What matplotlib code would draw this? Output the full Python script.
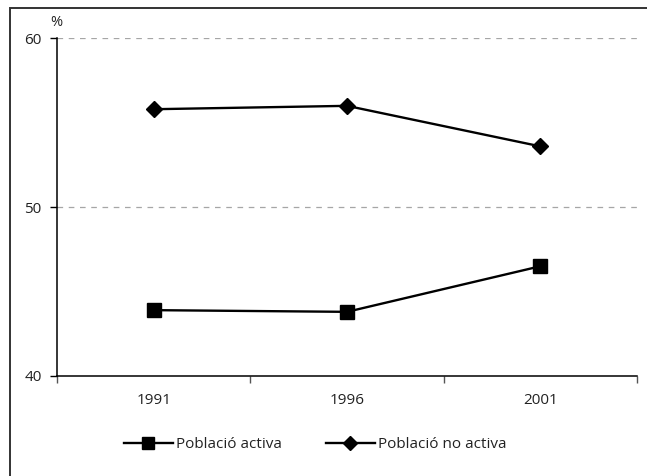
import matplotlib
matplotlib.use("Agg")
import matplotlib.pyplot as plt
from matplotlib.patches import Rectangle
import numpy as np

years = ["1991", "1996", "2001"]
activa = [43.9, 43.8, 46.5]
no_activa = [55.8, 56.0, 53.6]
yticks = [40, 50, 60]
series_labels = ["Població activa", "Població no activa"]

plt.rcParams['font.family'] = ['Open Sans', 'DejaVu Sans']
fs = 11

fig = plt.figure(figsize=(6.47, 4.76), dpi=100)
ax = fig.add_axes([57/647, 1-376/476, (637-57)/647, (376-38.3)/476])

x = np.arange(len(years))
ax.plot(x, activa, color='black', lw=1.7, marker='s', ms=9.5, label=series_labels[0], zorder=3)
ax.plot(x, no_activa, color='black', lw=1.7, marker='D', ms=8.3, label=series_labels[1], zorder=3)

ax.set_xlim(-0.5, len(years) - 0.5)
ax.set_ylim(40, 60)
ax.set_yticks(yticks)
ax.set_yticklabels([str(v) for v in yticks])
ax.set_xticks(x)
ax.set_xticklabels(years)
ax.set_xticks(np.arange(-0.5, len(years), 1.0), minor=True)
ax.tick_params(axis='x', which='major', length=0, pad=12, labelsize=fs, labelcolor='#222222')
ax.tick_params(axis='x', which='minor', length=5, width=1, color='#555555', direction='out')
ax.tick_params(axis='y', length=5, width=1, color='black', labelsize=fs, labelcolor='#222222', pad=6)

for v in yticks[1:]:
    ax.axhline(v, color='#a6a6a6', lw=0.9, ls=(0, (4.5, 4.5)), zorder=1)

for s in ['top', 'right']:
    ax.spines[s].set_visible(False)
ax.spines['left'].set_linewidth(1.1)
ax.spines['bottom'].set_linewidth(1.1)

fig.text(56/647, 1-22.5/476, "%", ha='center', va='center', fontsize=fs - 0.5, color='#222222')

leg = fig.legend(loc='center', bbox_to_anchor=(315/647, 1-445/476), ncol=2, frameon=False,
                 fontsize=fs, handlelength=3.2, columnspacing=2.9, handletextpad=0.2,
                 markerscale=0.85)
for t in leg.get_texts():
    t.set_color('#222222')

fig.patches.append(Rectangle((10/647, -0.1), 1.2, 1.1 - 8.3/476, transform=fig.transFigure,
                             fill=False, edgecolor='#333333', lw=1.4, zorder=0))

fig.savefig("out.png", dpi=100)
